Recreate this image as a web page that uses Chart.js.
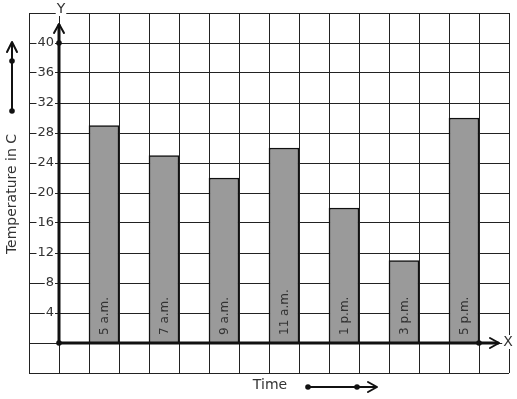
<!DOCTYPE html>
<html>
<head>
<meta charset="utf-8">
<style>
  html, body { margin: 0; padding: 0; background: #fff; }
  #wrap { width: 517px; height: 399px; }
</style>
<script src="https://cdn.jsdelivr.net/npm/chart.js@4/dist/chart.umd.min.js"></script>
</head>
<body>
<div id="wrap"><canvas id="tempChart" width="517" height="399"></canvas></div>
<script>
// ── Data ──
const times = ['5 a.m.', '7 a.m.', '9 a.m.', '11 a.m.', '1 p.m.', '3 p.m.', '5 p.m.'];
const temps = [29, 25, 22, 26, 18, 11, 30];
const yTicks = [4, 8, 12, 16, 20, 24, 28, 32, 36, 40];

const INK = '#111';
const TEXT = '#333';
const FONT = "'DejaVu Sans', sans-serif";

// each bar sits on every other grid column, starting one column right of the Y axis
const barPoints = temps.map((t, i) => ({ x: 2 * i + 1.5, y: t }));

function textWithBackdrop(ctx, str, x, y, align) {
  const w = ctx.measureText(str).width;
  const left = align === 'right' ? x - w : align === 'center' ? x - w / 2 : x;
  ctx.fillStyle = '#fff';
  ctx.fillRect(left - 1, y - 7, w + 2, 14);
  ctx.fillStyle = TEXT;
  ctx.textAlign = align;
  ctx.fillText(str, x, y);
}

function dot(ctx, x, y) {
  ctx.beginPath();
  ctx.arc(x, y, 2.8, 0, Math.PI * 2);
  ctx.fillStyle = INK;
  ctx.fill();
}

const axesOverlay = {
  id: 'axesOverlay',
  afterDatasetsDraw(chart) {
    const { ctx, scales: { x, y } } = chart;
    const x0 = x.getPixelForValue(0);
    const y0 = y.getPixelForValue(0);
    const yTop = y.getPixelForValue(yTicks[yTicks.length - 1]);
    const xEnd = x.getPixelForValue(14);
    ctx.save();
    ctx.strokeStyle = INK;
    ctx.lineCap = 'round';
    ctx.lineJoin = 'round';

    // Y axis with arrow
    ctx.lineWidth = 3;
    ctx.beginPath();
    ctx.moveTo(x0, y0);
    ctx.lineTo(x0, 25);
    ctx.stroke();
    ctx.lineWidth = 2;
    ctx.beginPath();
    ctx.moveTo(x0 - 5, 33);
    ctx.lineTo(x0, 24);
    ctx.lineTo(x0 + 5, 33);
    ctx.stroke();

    // X axis with arrow
    ctx.lineWidth = 3;
    ctx.beginPath();
    ctx.moveTo(x0, y0);
    ctx.lineTo(498, y0);
    ctx.stroke();
    ctx.lineWidth = 2;
    ctx.beginPath();
    ctx.moveTo(490, y0 - 5);
    ctx.lineTo(499, y0);
    ctx.lineTo(490, y0 + 5);
    ctx.stroke();

    dot(ctx, x0, y0);
    dot(ctx, x0, yTop);
    dot(ctx, xEnd, y0);

    // tick labels
    ctx.font = `13px ${FONT}`;
    ctx.textBaseline = 'middle';
    yTicks.forEach(v => textWithBackdrop(ctx, String(v), 54, y.getPixelForValue(v), 'right'));

    // axis letters
    ctx.font = `14px ${FONT}`;
    textWithBackdrop(ctx, 'Y', 61, 9, 'center');
    textWithBackdrop(ctx, 'X', 508, 342, 'center');

    // bar labels, rotated, reading upward from the base
    ctx.font = `12px ${FONT}`;
    ctx.fillStyle = TEXT;
    ctx.textAlign = 'left';
    ctx.textBaseline = 'middle';
    const meta = chart.getDatasetMeta(0);
    meta.data.forEach((bar, i) => {
      ctx.save();
      ctx.translate(bar.x + 1, y0 - 8);
      ctx.rotate(-Math.PI / 2);
      ctx.fillText(times[i], 0, 0);
      ctx.restore();
    });

    // Y title
    ctx.font = `14px ${FONT}`;
    ctx.save();
    ctx.translate(12, 194);
    ctx.rotate(-Math.PI / 2);
    ctx.textAlign = 'center';
    ctx.fillText('Temperature in C', 0, 0);
    ctx.restore();

    // X title
    ctx.textAlign = 'center';
    ctx.fillText('Time', 270, 385);

    // direction arrows
    ctx.lineWidth = 2;
    ctx.beginPath();
    ctx.moveTo(12, 111);
    ctx.lineTo(12, 43);
    ctx.moveTo(7, 52);
    ctx.lineTo(12, 42);
    ctx.lineTo(17, 52);
    ctx.stroke();
    dot(ctx, 12, 61);
    dot(ctx, 12, 111);

    ctx.beginPath();
    ctx.moveTo(308, 387);
    ctx.lineTo(376, 387);
    ctx.moveTo(368, 382);
    ctx.lineTo(377, 387);
    ctx.lineTo(368, 392);
    ctx.stroke();
    dot(ctx, 308, 387);
    dot(ctx, 357, 387);

    ctx.restore();
  }
};

new Chart(document.getElementById('tempChart'), {
  type: 'bar',
  data: {
    datasets: [{
      data: barPoints,
      backgroundColor: '#9a9a9a',
      borderColor: INK,
      borderWidth: 1.5,
      borderSkipped: 'bottom',
      barThickness: 30
    }]
  },
  options: {
    responsive: false,
    animation: false,
    layout: { padding: { left: 29, top: 13, right: 8, bottom: 26 } },
    plugins: { legend: { display: false }, tooltip: { enabled: false } },
    scales: {
      x: {
        type: 'linear',
        min: -1,
        max: 15,
        offset: false,
        ticks: { display: false, stepSize: 1 },
        grid: { color: '#222', lineWidth: 1, drawTicks: false, offset: false },
        border: { display: false }
      },
      y: {
        min: -4,
        max: 44,
        ticks: { display: false, stepSize: 4 },
        grid: { color: '#222', lineWidth: 1, drawTicks: false },
        border: { display: false }
      }
    }
  },
  plugins: [axesOverlay]
});
</script>
</body>
</html>
